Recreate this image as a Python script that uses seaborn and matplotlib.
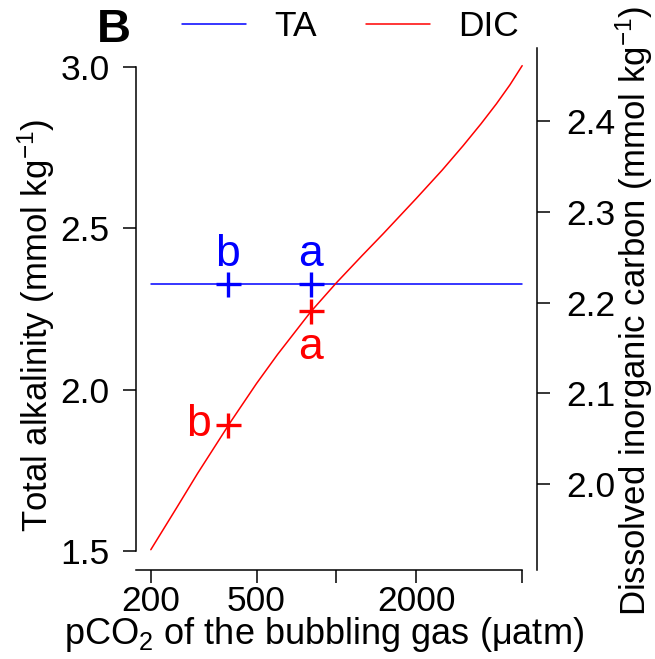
import matplotlib
matplotlib.use('Agg')
import matplotlib.pyplot as plt
import seaborn as sns
from matplotlib.lines import Line2D
from matplotlib.ticker import NullLocator

sns.set_theme(style='ticks')
plt.rcParams['font.family'] = ['Liberation Sans', 'DejaVu Sans']
plt.rcParams['mathtext.fontset'] = 'custom'
plt.rcParams['mathtext.rm'] = 'Liberation Sans'
plt.rcParams['mathtext.it'] = 'Liberation Sans:italic'
plt.rcParams['mathtext.bf'] = 'Liberation Sans:bold'
plt.rcParams['axes.edgecolor'] = 'black'
plt.rcParams['xtick.color'] = 'black'
plt.rcParams['ytick.color'] = 'black'
plt.rcParams['text.color'] = 'black'
plt.rcParams['axes.labelcolor'] = 'black'

# ---- data ----
pco2_curve = [200, 250, 300, 400, 500, 600, 800, 1000, 1250, 1500, 2000,
              2500, 3000, 3500, 4000, 4500, 5000]
dic_curve = [1.928, 1.974, 2.012, 2.069, 2.111, 2.143, 2.190, 2.222, 2.252,
             2.276, 2.315, 2.346, 2.373, 2.397, 2.419, 2.440, 2.461]
ta_x = [200, 5000]
ta_y = [2.326, 2.326]
pco2_pts = [390, 800]
ta_pts = [2.326, 2.326]
dic_pts = [2.065, 2.191]
ta_letters = ['b', 'a']
dic_letters = ['b', 'a']
x_ticks = [200, 500, 1000, 2000, 5000]
x_ticklabels = ['200', '500', '', '2000', '']
ta_ticks = [1.5, 2.0, 2.5, 3.0]
dic_ticks = [2.0, 2.1, 2.2, 2.3, 2.4]

FS_TICK = 25.5
FS_LAB = 26
FS_YLAB = 25
FS_LET = 32
BLUE = '#0000FF'
RED = '#FF0000'

fig = plt.figure(figsize=(6.55, 6.59), dpi=100)
ax = fig.add_axes([0.20763, 0.13445, 0.61221, 0.79332])
ax.set_xscale('log')
ax2 = ax.twinx()

sns.lineplot(x=ta_x, y=ta_y, ax=ax, color=BLUE, lw=1.1)
sns.lineplot(x=pco2_curve, y=dic_curve, ax=ax2, color=RED, lw=1.1)
sns.scatterplot(x=pco2_pts, y=ta_pts, ax=ax, marker='+', s=324, color=BLUE, linewidth=2.4)
sns.scatterplot(x=pco2_pts, y=dic_pts, ax=ax2, marker='+', s=324, color=RED, linewidth=2.4)

for p, v, l in zip(pco2_pts, ta_pts, ta_letters):
    ax.annotate(l, xy=(p, v), xytext=(0, 13), textcoords='offset points',
                ha='center', va='baseline', color=BLUE, fontsize=FS_LET)
# red letters: b to the left, a below
ax2.annotate(dic_letters[0], xy=(pco2_pts[0], dic_pts[0]), xytext=(-12, -7.5),
             textcoords='offset points', ha='right', va='baseline', color=RED, fontsize=FS_LET)
ax2.annotate(dic_letters[1], xy=(pco2_pts[1], dic_pts[1]), xytext=(0, -34.5),
             textcoords='offset points', ha='center', va='baseline', color=RED, fontsize=FS_LET)

ax.set_xlim(175.9, 5686)
ax.set_ylim(1.44, 3.06)
ax2.set_ylim(1.9052, 2.4809)

ax.set_xticks(x_ticks)
ax.set_xticklabels(x_ticklabels)
ax.xaxis.set_minor_locator(NullLocator())
ax.set_yticks(ta_ticks)
ax.set_yticklabels([f'{v:.1f}' for v in ta_ticks])
ax2.set_yticks(dic_ticks)
ax2.set_yticklabels([f'{v:.1f}' for v in dic_ticks])
ax2.yaxis.set_minor_locator(NullLocator())

ax.tick_params(axis='x', which='major', length=9.4, width=1.1, pad=1.0, labelsize=FS_TICK)
ax.tick_params(axis='y', which='major', length=9.4, width=1.1, pad=9.5, labelsize=FS_TICK)
ax2.tick_params(axis='y', which='major', length=9.4, width=1.1, pad=11.5, labelsize=FS_TICK)

for s in ['top', 'right']:
    ax.spines[s].set_visible(False)
for s in ['top', 'left', 'bottom']:
    ax2.spines[s].set_visible(False)
ax.spines['left'].set_bounds(1.5, 3.0)
ax.spines['bottom'].set_bounds(175.9, 5000)
for sp in [ax.spines['left'], ax.spines['bottom'], ax2.spines['right']]:
    sp.set_linewidth(1.1)

ax.set_xlabel('pCO$_2$ of the bubbling gas (\u03bcatm)', fontsize=FS_LAB)
ax.xaxis.set_label_coords(0.468, -0.086)
ax.set_ylabel('Total alkalinity (mmol kg$^{-1}$)', fontsize=FS_YLAB)
ax.yaxis.set_label_coords(-0.197, 0.468)
ax2.set_ylabel('Dissolved inorganic carbon (mmol kg$^{-1}$)', fontsize=FS_YLAB)
ax2.yaxis.set_label_coords(1.19, 0.497)

handles = [Line2D([], [], color=BLUE, lw=1.1), Line2D([], [], color=RED, lw=1.1)]
fig.legend(handles, ['TA', 'DIC'], ncol=2, loc='center left',
           bbox_to_anchor=(0.278, 1 - 27 / 659), frameon=False, fontsize=FS_TICK,
           handlelength=1.8, handletextpad=0.8, columnspacing=1.4,
           borderpad=0, borderaxespad=0)

fig.text(114 / 655, 1 - 30 / 659, 'B', fontsize=34, fontweight='bold',
         ha='center', va='center')

fig.savefig('out.png', dpi=100)
